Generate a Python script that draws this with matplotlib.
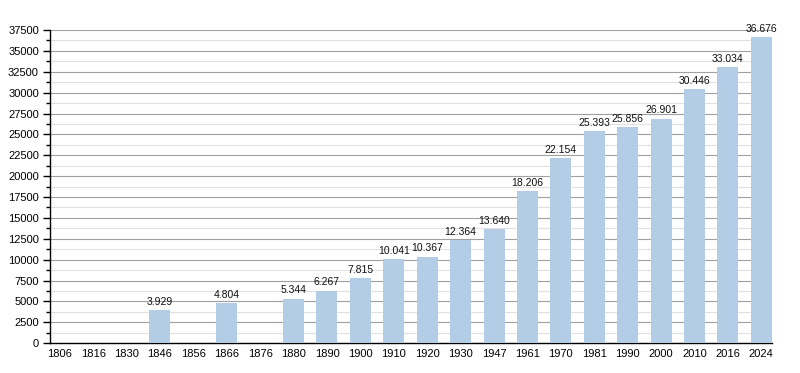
import matplotlib
matplotlib.use("Agg")
import matplotlib.pyplot as plt
import numpy as np
from matplotlib.ticker import MultipleLocator

plt.rcParams["font.family"] = ["Liberation Sans", "DejaVu Sans"]

years = ["1806", "1816", "1830", "1846", "1856", "1866", "1876", "1880", "1890", "1900",
         "1910", "1920", "1930", "1947", "1961", "1970", "1981", "1990", "2000", "2010",
         "2016", "2024"]
population = [None, None, None, 3929, None, 4804, None, 5344, 6267, 7815,
              10041, 10367, 12364, 13640, 18206, 22154, 25393, 25856, 26901, 30446,
              33034, 36676]
y_ticks = list(range(0, 37501, 2500))

fig = plt.figure(figsize=(8, 3.73), dpi=100)
ax = fig.add_axes([0.0625, 0.080, 0.9025, 0.8396])

x = np.arange(len(years))
vals = np.array([np.nan if v is None else v for v in population], dtype=float)
ax.bar(x, np.nan_to_num(vals), width=0.63, color="#b3cde6", zorder=3)

for xi, v in zip(x, population):
    if v is not None:
        lab = f"{v:,}".replace(",", ".")
        ax.text(xi, v + 400, lab, ha="center", va="bottom", fontsize=7.5, color="#111111", zorder=4)

ax.set_xlim(-0.29, 21.32)
ax.set_ylim(0, 37500)
ax.set_yticks(y_ticks)
ax.set_yticklabels([str(t) for t in y_ticks])
ax.yaxis.set_minor_locator(MultipleLocator(1250))
ax.set_xticks(x)
ax.set_xticklabels(years)

ax.grid(axis="y", which="major", color="#a0a0a0", linewidth=0.8, zorder=0)
ax.grid(axis="y", which="minor", color="#e0e0e0", linewidth=0.8, zorder=0)
ax.set_axisbelow(True)

for s in ["top", "right"]:
    ax.spines[s].set_visible(False)
ax.spines["left"].set_linewidth(1.0)
ax.spines["bottom"].set_linewidth(1.0)
ax.tick_params(axis="y", which="major", length=5, width=1, labelsize=8, pad=3)
ax.tick_params(axis="y", which="minor", length=3, width=1)
ax.tick_params(axis="x", length=0, labelsize=8, pad=4)

fig.savefig("out.png", dpi=100)
